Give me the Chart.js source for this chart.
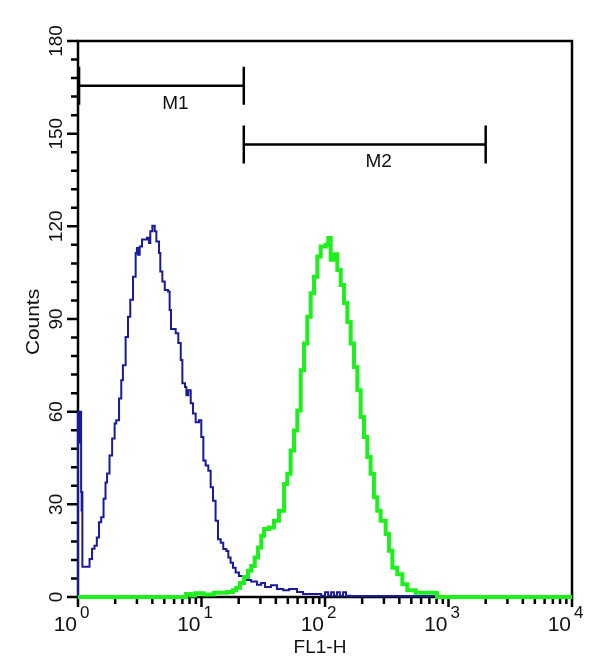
<!DOCTYPE html>
<html>
<head>
<meta charset="utf-8">
<script src="https://cdn.jsdelivr.net/npm/chart.js@4.4.1/dist/chart.umd.min.js"></script>
<style>
  html, body { margin: 0; padding: 0; background: #fff; }
  #wrap { width: 611px; height: 664px; position: relative; }
</style>
</head>
<body>
<div id="wrap"><canvas id="graph"></canvas></div>
<script>
// FL1-H histogram, values
const blueX = [1, 1, 1.012, 1.024, 1.036, 1.048, 1.06, 1.07, 1.08, 1.085, 1.24, 1.3, 1.36, 1.42, 1.48, 1.54, 1.61, 1.67, 1.72, 1.8,
  1.89, 1.98, 2.04, 2.15, 2.24, 2.31, 2.43, 2.54, 2.65, 2.79, 2.93, 3.0, 3.06, 3.16, 3.3, 3.62, 3.76, 3.85, 4.0, 4.18,
  4.31, 4.53, 4.64, 4.82, 5.04, 5.36, 5.52, 5.66, 6.18, 6.49, 6.79, 7.0, 7.35, 7.54, 7.82, 8.18, 8.53, 8.97, 9.55, 9.96,
  10.35, 10.8, 11.35, 11.86, 12.39, 13.0, 13.6, 14.3, 15.0, 15.9, 16.5, 17.2, 18.0, 18.9, 20.1, 22.1, 25.2, 28.1, 30.4, 32.7,
  36.5, 40.9, 45.9, 51.2, 59.3, 66.4, 77.4, 93, 100, 106, 112, 118, 125, 132, 140, 148, 160, 800, 10000];
const blueY = [0, 60, 52, 60, 50, 60, 34, 28, 34, 9.8, 12.3, 15.6, 16.6, 19.3, 24.2, 25.8, 31.8, 37.1, 40, 45.8,
  51.3, 56.2, 57.2, 64.3, 70.2, 75, 84.2, 90.7, 96.2, 103.7, 111.4, 113, 110.8, 113.5, 115.7, 116.3, 114.6, 118.4, 120.2, 118.4,
  115.1, 111.4, 105.4, 102.1, 99.4, 98.9, 92.9, 86.8, 85.4, 82.2, 76.7, 69.2, 68, 65.3, 66.9, 62.7, 59.4, 56.6, 57.2, 51.8,
  44.2, 42.6, 40.9, 35.5, 31.2, 24.7, 18.7, 17.6, 15.5, 14.9, 12.8, 11.1, 9.5, 7.9, 6.8, 5.5, 5.0, 4.0, 4.5, 3.2,
  3.8, 2.6, 2.2, 2.6, 1.6, 1.0, 1.0, 0.4, 1.5, 0.4, 1.5, 0.4, 1.5, 0.4, 1.5, 0.4, 0.3, 0, 0];

const greenX = [1, 7.3, 7.5, 8.2, 8.9, 10.4, 12.6, 16.1, 18.0, 19.1, 20.5, 22.1, 23.8, 25.3, 27.0, 28.7, 30.5, 32.1, 35.2, 38.6,
  42.4, 46.6, 49.5, 52.7, 56.1, 59.7, 63.6, 67.6, 71.9, 76.6, 81.5, 86.7, 92.3, 101.4, 106.4, 111.2, 118.3, 125.9, 134, 142.6,
  151.7, 161.4, 171.8, 182.8, 194.5, 207, 220, 234, 249, 265, 282, 310, 330, 351, 385, 423, 464, 542, 792, 807, 10000];
const greenY = [0, 0, 1.0, 0.5, 1.2, 0.8, 1.4, 1.6, 2.2, 3.0, 4.5, 6.5, 8.5, 10, 12.8, 16, 19.8, 22, 22.5, 24.7,
  27.9, 36.6, 39.9, 47.4, 53.9, 60.4, 73.4, 82.1, 90.7, 98.3, 103.7, 110.2, 113.5, 114, 116.2, 109.2, 111, 105.9, 101, 95.2,
  89, 82.1, 74.5, 66.9, 58.3, 51.8, 45.3, 39.9, 32.3, 27.9, 24.7, 20.4, 15, 9.5, 7.4, 4.1, 2.2, 1.4, 1.2, 0, 0];

// gates
const markerNames = ['M1', 'M2'];
const markerFrom = [1.02, 22];
const markerTo = [22, 2000];
const markerLevel = [165.5, 146.5];

// axes
const yTicks = [0, 30, 60, 90, 120, 150, 180];
const xTickExps = [0, 1, 2, 3, 4];
const xTitle = 'FL1-H';
const yTitle = 'Counts';

const FONT = '"Liberation Sans", Arial, Helvetica, sans-serif';
const INK = '#111';

function pts(xs, ys) {
  return xs.map((x, i) => ({ x: x, y: ys[i] }));
}

const axesPlugin = {
  id: 'axesPlugin',
  beforeDraw(chart) {
    const c = chart.ctx;
    c.save();
    c.fillStyle = '#fff';
    c.fillRect(0, 0, chart.width, chart.height);
    c.restore();
  },
  beforeDatasetsDraw(chart) {
    const c = chart.ctx, a = chart.chartArea;
    const xs = chart.scales.x, ys = chart.scales.y;
    c.save();
    c.strokeStyle = '#000';
    c.lineWidth = 2.5;
    c.lineCap = 'butt';

    // y ticks: majors + 4 minors in between
    c.beginPath();
    for (let i = 0; i < yTicks.length; i++) {
      const py = ys.getPixelForValue(yTicks[i]);
      c.moveTo(a.left - 11, py); c.lineTo(a.left, py);
      if (i < yTicks.length - 1) {
        const step = (yTicks[i + 1] - yTicks[i]) / 5;
        for (let k = 1; k < 5; k++) {
          const pm = ys.getPixelForValue(yTicks[i] + k * step);
          c.moveTo(a.left - 7, pm); c.lineTo(a.left, pm);
        }
      }
    }
    // x ticks: decades + 2..9
    xTickExps.forEach((e, i) => {
      const base = Math.pow(10, e);
      const px = xs.getPixelForValue(base);
      c.moveTo(px, a.bottom); c.lineTo(px, a.bottom + 10);
      if (i < xTickExps.length - 1) {
        for (let m = 2; m <= 9; m++) {
          const pm = xs.getPixelForValue(base * m);
          c.moveTo(pm, a.bottom); c.lineTo(pm, a.bottom + 7);
        }
      }
    });
    c.stroke();

    // frame
    c.lineWidth = 2.5;
    c.strokeRect(a.left, a.top, a.right - a.left, a.bottom - a.top);

    // y labels (rotated)
    c.fillStyle = INK;
    c.font = '19px ' + FONT;
    c.textAlign = 'center';
    c.textBaseline = 'alphabetic';
    yTicks.forEach(v => {
      const py = ys.getPixelForValue(v);
      c.save();
      c.translate(a.left - 16, py);
      c.rotate(-Math.PI / 2);
      c.fillText(String(v), 0, 0);
      c.restore();
    });

    // x labels 10^n
    xTickExps.forEach(e => {
      const px = xs.getPixelForValue(Math.pow(10, e));
      c.font = '21px ' + FONT;
      c.textAlign = 'right';
      c.fillText('10', px - 1, a.bottom + 34);
      c.font = '17px ' + FONT;
      c.textAlign = 'left';
      c.fillText(String(e), px + 2, a.bottom + 21);
    });

    // titles
    c.font = '19px ' + FONT;
    c.textAlign = 'center';
    c.fillText(xTitle, (a.left + a.right) / 2 - 5, a.bottom + 56);
    c.save();
    c.translate(39, (a.top + a.bottom) / 2 + 3);
    c.rotate(-Math.PI / 2);
    c.scale(1.1, 1);
    c.fillText(yTitle, 0, 0);
    c.restore();
    c.restore();
  },
  afterDatasetsDraw(chart) {
    const c = chart.ctx;
    const xs = chart.scales.x, ys = chart.scales.y;
    c.save();
    c.strokeStyle = '#000';
    c.lineWidth = 2.5;
    c.fillStyle = INK;
    c.font = '19px ' + FONT;
    c.textAlign = 'center';
    c.textBaseline = 'alphabetic';
    markerNames.forEach((name, i) => {
      const x1 = xs.getPixelForValue(markerFrom[i]);
      const x2 = xs.getPixelForValue(markerTo[i]);
      const py = ys.getPixelForValue(markerLevel[i]);
      c.beginPath();
      c.moveTo(x1, py); c.lineTo(x2, py);
      c.moveTo(x1, py - 19); c.lineTo(x1, py + 19);
      c.moveTo(x2, py - 19); c.lineTo(x2, py + 19);
      c.stroke();
      c.fillText(name, (x1 + x2) / 2 + 14, py + 23);
    });
    c.restore();
  }
};

new Chart(document.getElementById('graph'), {
  type: 'line',
  data: {
    datasets: [
      {
        data: pts(greenX, greenY),
        borderColor: '#1ef01e',
        borderWidth: 4,
        stepped: true,
        fill: false,
        pointRadius: 0,
        clip: false
      },
      {
        data: pts(blueX, blueY),
        borderColor: '#1a1a9c',
        borderWidth: 2,
        stepped: true,
        fill: false,
        pointRadius: 0,
        clip: false
      }
    ]
  },
  options: {
    responsive: true,
    maintainAspectRatio: false,
    animation: false,
    layout: { padding: { left: 78, right: 39, top: 41, bottom: 67 } },
    plugins: { legend: { display: false }, tooltip: { enabled: false } },
    scales: {
      x: { type: 'logarithmic', min: 1, max: 10000, display: false },
      y: { type: 'linear', min: 0, max: 180, display: false }
    }
  },
  plugins: [axesPlugin]
});
</script>
</body>
</html>
